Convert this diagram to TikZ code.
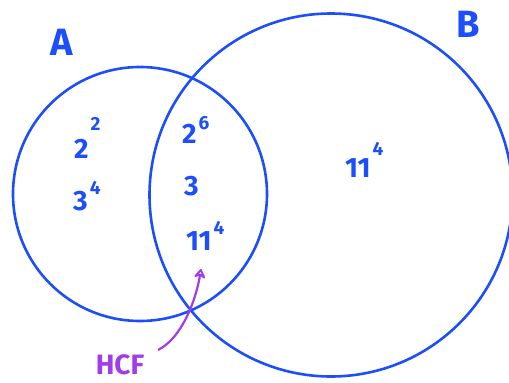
\documentclass[tikz,border=0pt]{standalone}
\usepackage{fontspec}
\setmainfont{Fira Sans}
\usetikzlibrary{arrows.meta}
\definecolor{vblue}{RGB}{28,78,250}
\definecolor{vpurple}{RGB}{160,60,235}
\newcommand{\pw}[3]{#1\hspace{2pt}\raisebox{#3}{\fontsize{19}{19}\selectfont #2}}
\tikzset{
  setcircle/.style={draw=vblue, line width=2.6pt},
  term/.style={text=vblue, font=\fontsize{28}{30}\selectfont\bfseries, inner sep=0pt, anchor=base west},
  setlabel/.style={text=vblue, font=\fontsize{38}{40}\selectfont\bfseries, inner sep=0pt},
}
\begin{document}
\begin{tikzpicture}[x=1pt,y=-1pt]
\useasboundingbox (0,0) rectangle (509,383);
\node[setcircle, circle, minimum size=254pt, inner sep=0pt] (A) at (140,194) {};
\node[setcircle, circle, minimum size=363pt, inner sep=0pt] (B) at (331,195) {};
\node[setlabel] (la) at (62,42) {A};
\node[setlabel] (lb) at (468,24) {B};
\node[term] (a1) at (74,158) {\pw{2}{2}{28pt}};
\node[term] (a2) at (73,210) {\pw{3}{4}{16pt}};
\node[term] (c1) at (182,143) {\pw{2}{6}{14pt}};
\node[term] (c2) at (184,195) {3};
\node[term] (c3) at (186,250) {\pw{11}{4}{16pt}};
\node[term] (b1) at (345,177) {\pw{11}{4}{22pt}};
\node[text=vpurple, font=\fontsize{28}{30}\selectfont\bfseries, inner sep=0pt] (hcf) at (120,365) {HCF};
\coordinate (tail) at (158,350);
\coordinate (tip) at (201,269);
\draw[vpurple, line width=2.2pt, -{Stealth[open, length=11pt, width=14pt, round]}] (tail) .. controls (182,338) and (196,300) .. (tip);
\end{tikzpicture}
\end{document}
